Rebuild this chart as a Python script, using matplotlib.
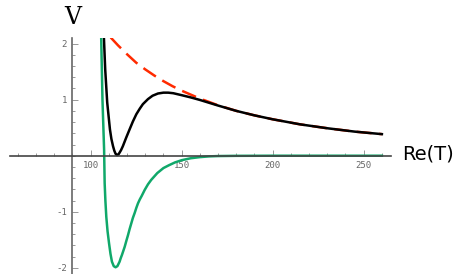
import matplotlib
matplotlib.use('Agg')
import matplotlib.pyplot as plt
from matplotlib.ticker import MultipleLocator

plt.rcParams['axes.unicode_minus'] = False

# values
green_x = [105.5, 105.8, 106.5, 107.4, 107.7, 108.1, 108.6, 109.3, 110.1, 110.9, 111.7,
           112.7, 113.7, 114.7, 115.9, 116.5, 117.2, 118.7, 119.6, 120.5, 121.4, 122.3,
           123.2, 124.2, 125.1, 126.0, 127.0, 128.0, 129.7, 131.5, 133.3, 136.6, 140.0,
           143.0, 146.3, 150.0, 155.0, 160.0, 165.0, 170.0, 180.0, 200.0, 230.0, 260.0]
green_y = [2.6, 2.1, 1.0, 0.1, -0.49, -0.8, -1.09, -1.35, -1.56, -1.75, -1.89,
           -1.97, -1.99, -1.97, -1.89, -1.83, -1.77, -1.625, -1.52, -1.42, -1.31, -1.21,
           -1.11, -1.02, -0.93, -0.85, -0.78, -0.72, -0.61, -0.51, -0.43, -0.31, -0.22,
           -0.17, -0.12, -0.08, -0.045, -0.025, -0.012, -0.006, -0.002, 0.0, 0.0, 0.0]

red_x = [111, 115, 120, 125, 130, 135, 140, 145, 150, 160, 170, 180, 190, 200, 215, 230, 245, 260]
red_y = [2.11, 1.97, 1.81, 1.66, 1.54, 1.43, 1.33, 1.24, 1.16, 1.02, 0.90, 0.80, 0.72, 0.65,
         0.56, 0.49, 0.43, 0.385]

black_x = [106.8, 107.3, 108.0, 109.1, 110.6, 111.4, 112.3, 113.0, 113.7, 114.5, 115.2,
           115.8, 116.7, 117.7, 119.5, 121.4, 123.2, 125.1, 127.0, 128.7, 131.5, 134.0,
           137.0, 140.0, 142.6, 145.4, 150.0, 155.0, 160.0, 170.0, 180.0, 190.0, 200.0,
           215.0, 230.0, 245.0, 260.0]
black_y = [2.6, 2.1, 1.54, 0.95, 0.47, 0.30, 0.17, 0.09, 0.035, 0.01, 0.02,
           0.05, 0.10, 0.17, 0.32, 0.47, 0.61, 0.74, 0.84, 0.92, 1.01, 1.07,
           1.11, 1.125, 1.125, 1.115, 1.08, 1.04, 0.995, 0.895, 0.80, 0.72, 0.65,
           0.56, 0.49, 0.43, 0.385]

x_ticks = [100, 150, 200, 250]
y_ticks = [-2, -1, 1, 2]

fig = plt.figure(figsize=(4.57, 2.74), dpi=100)
ax = fig.add_axes([10 / 457, 0.0, 381 / 457, 236 / 274])

ax.plot(red_x, red_y, color='#ff2a00', lw=1.8, dashes=(6, 3))
ax.plot(black_x, black_y, color='black', lw=1.8)
ax.plot(green_x, green_y, color='#10a86a', lw=1.8)

ax.set_xlim(55.7, 265)
ax.set_ylim(-2.11, 2.1)

# axes crossing at (90, 0), Mathematica style
ax.spines['left'].set_position(('data', 90))
ax.spines['bottom'].set_position(('data', 0))
ax.spines['right'].set_visible(False)
ax.spines['top'].set_visible(False)
ax.spines['left'].set_color('#666666')
ax.spines['bottom'].set_color('#444444')
ax.spines['left'].set_linewidth(1.2)
ax.spines['bottom'].set_linewidth(1.2)

ax.set_xticks(x_ticks)
ax.set_yticks(y_ticks)
ax.xaxis.set_minor_locator(MultipleLocator(10))
ax.yaxis.set_minor_locator(MultipleLocator(0.2))
ax.tick_params(which='both', direction='in', color='#888888', width=0.6)
ax.tick_params(which='major', length=4)
ax.tick_params(which='minor', length=2.5)
ax.tick_params(axis='x', pad=4)
ax.tick_params(axis='y', pad=4)
for lab in ax.get_xticklabels() + ax.get_yticklabels():
    lab.set_fontfamily('DejaVu Sans Mono')
    lab.set_fontsize(6.5)
    lab.set_color('#666666')

fig.text(72.5 / 457, 1 - 17.5 / 274, 'V', family='DejaVu Serif', fontsize=17,
         ha='center', va='center')
fig.text(402 / 457, 1 - 154 / 274, 'Re(T)', family='DejaVu Sans', fontsize=14,
         ha='left', va='center')

fig.savefig('out.png', dpi=100)
